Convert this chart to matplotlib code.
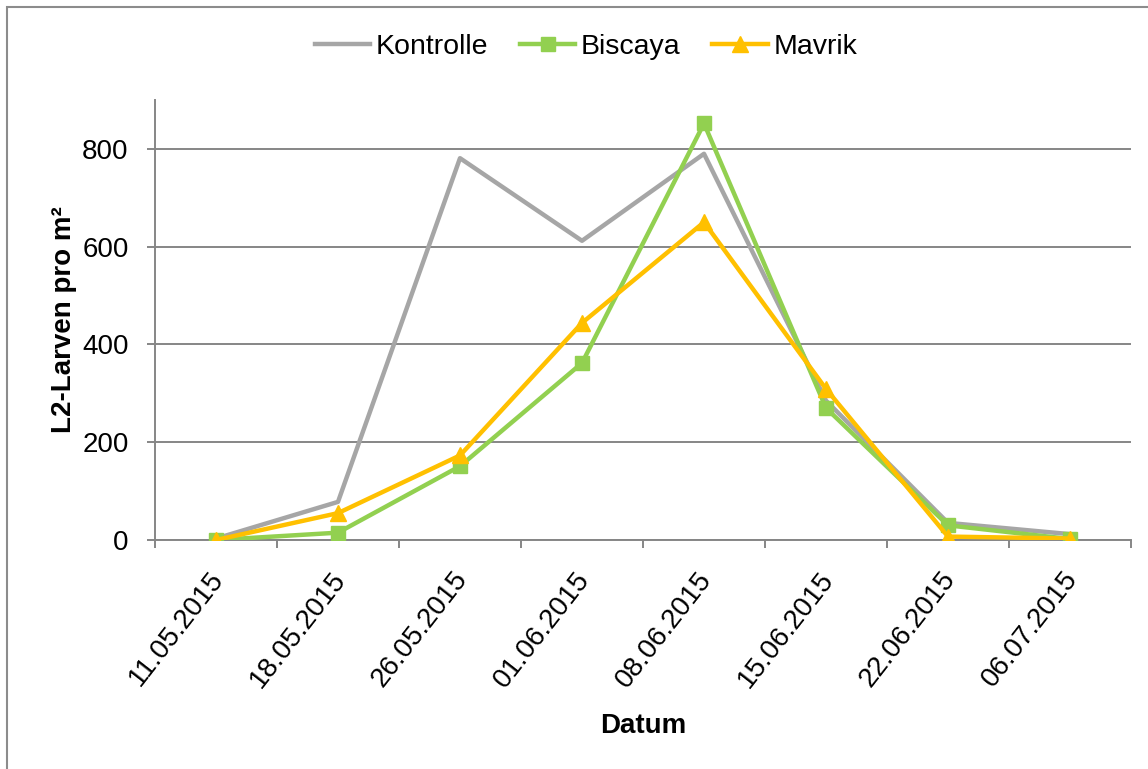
import matplotlib
matplotlib.use("Agg")
import matplotlib.pyplot as plt
from matplotlib.patches import Rectangle
from matplotlib.transforms import ScaledTranslation
import numpy as np

dates = ['11.05.2015', '18.05.2015', '26.05.2015', '01.06.2015',
         '08.06.2015', '15.06.2015', '22.06.2015', '06.07.2015']
kontrolle = [3, 78, 781, 612, 790, 285, 35, 12]
biscaya = [0, 15, 151, 362, 852, 270, 30, 2]
mavrik = [0, 55, 173, 444, 650, 309, 7, 3]
yticks = [0, 200, 400, 600, 800]

plt.rcParams['font.family'] = ['Liberation Sans', 'DejaVu Sans']
FS = 20

fig = plt.figure(figsize=(11.48, 7.69), dpi=100)
ax = fig.add_axes([155/1148, 1-540/769, (1131-155)/1148, 440/769])

x = np.arange(len(dates))
ax.plot(x, kontrolle, color='#A6A6A6', lw=3.2, label='Kontrolle', zorder=3)
ax.plot(x, biscaya, color='#92D050', lw=3.2, marker='s', ms=10, label='Biscaya', zorder=4)
ax.plot(x, mavrik, color='#FFC000', lw=3.2, marker='^', ms=11, label='Mavrik', zorder=5)

ax.set_xlim(-0.5, len(dates) - 0.5)
ax.set_ylim(0, 900)
ax.set_yticks(yticks)
ax.grid(axis='y', color='#868686', lw=1.4)
ax.set_axisbelow(True)

for s in ['top', 'right']:
    ax.spines[s].set_visible(False)
for s in ['left', 'bottom']:
    ax.spines[s].set_color('#868686')
    ax.spines[s].set_linewidth(1.4)
    ax.spines[s].set_zorder(2)

ax.tick_params(axis='y', direction='out', length=6, width=1.4, color='#868686',
               labelsize=FS, pad=13)
ax.set_xticks(x)
ax.set_xticks(np.arange(-0.5, len(dates), 1.0), minor=True)
ax.tick_params(axis='x', which='major', length=0, pad=25, labelsize=FS)
ax.tick_params(axis='x', which='minor', direction='out', length=6, width=1.4, color='#868686')
ax.set_xticklabels(dates, rotation=52, ha='right', va='center', rotation_mode='anchor')
off = ScaledTranslation(3/100, 0, fig.dpi_scale_trans)
for lab in ax.get_xticklabels():
    lab.set_transform(lab.get_transform() + off)

ax.set_ylabel('L2-Larven pro m²', fontsize=FS, fontweight='bold', labelpad=4)
ax.set_xlabel('Datum', fontsize=FS, fontweight='bold')
ax.xaxis.label.set_va('center')
ax.xaxis.set_label_coords(643/1148, 1-726/769)
ax.xaxis.label.set_transform(fig.transFigure)

fig.legend(loc='center', bbox_to_anchor=(586/1148, 1-47/769), ncol=3, frameon=False,
           fontsize=20.5, handlelength=1.95, handletextpad=0.2, columnspacing=1.1)

fig.add_artist(Rectangle((7/1148, -0.1), 1.2, 1-7/769 + 0.1, transform=fig.transFigure,
                         fill=False, edgecolor='#8C8C8C', lw=1.5, clip_on=False))

fig.savefig('out.png', dpi=100)
